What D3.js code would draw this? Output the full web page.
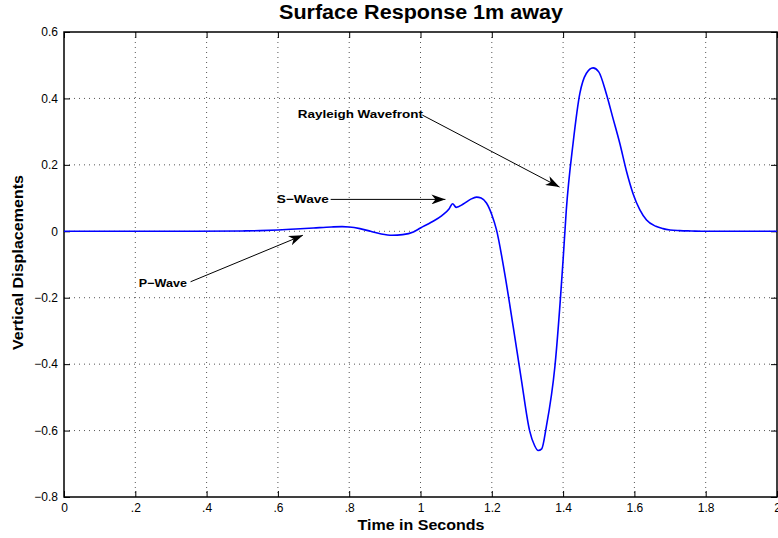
<!DOCTYPE html>
<html><head><meta charset="utf-8">
<script src="https://cdn.jsdelivr.net/npm/d3@7"></script>
<style>body{margin:0;background:#fff}svg{display:block}text{font-family:"Liberation Sans",Arial,sans-serif}</style>
</head><body>
<svg id="c" width="778" height="538"></svg>
<script>
const times = [0,0.3,0.5,0.55,0.6,0.65,0.7,0.75,0.78,0.8,0.83,0.86,0.89,0.92,0.95,0.98,1.0,1.03,1.06,1.08,1.09,1.10,1.12,1.14,1.157,1.17,1.185,1.20,1.213,1.236,1.26,1.283,1.306,1.32,1.33,1.34,1.353,1.377,1.40,1.409,1.428,1.447,1.465,1.484,1.50,1.521,1.54,1.559,1.578,1.596,1.615,1.634,1.66,1.68,1.70,1.727,1.76,1.8,2.0];
const displacement = [0,0,0.001,0.002,0.004,0.007,0.010,0.013,0.014,0.013,0.008,0.0,-0.008,-0.012,-0.01,-0.002,0.01,0.027,0.047,0.067,0.083,0.072,0.082,0.096,0.103,0.10,0.085,0.05,0.005,-0.126,-0.287,-0.447,-0.6,-0.645,-0.66,-0.655,-0.588,-0.407,-0.086,0.064,0.265,0.415,0.475,0.492,0.48,0.415,0.34,0.265,0.18,0.114,0.065,0.034,0.015,0.008,0.004,0.002,0.001,0,0];
const xTicks = [0,0.2,0.4,0.6,0.8,1,1.2,1.4,1.6,1.8,2];
const xTickLabels = ["0",".2",".4",".6",".8","1","1.2","1.4","1.6","1.8","2"];
const yTicks = [-0.8,-0.6,-0.4,-0.2,0,0.2,0.4,0.6];
const yTickLabels = ["\u22120.8","\u22120.6","\u22120.4","\u22120.2","0","0.2","0.4","0.6"];
const annotations = [
  {label:"Rayleigh Wavefront", tx:0.656, ty:0.352, fx:1.005, fy:0.35, ax:1.39, ay:0.133, w:125},
  {label:"S\u2212Wave", tx:0.597, ty:0.096, fx:0.748, fy:0.096, ax:1.07, ay:0.096, w:52},
  {label:"P\u2212Wave", tx:0.21, ty:-0.155, fx:0.355, fy:-0.152, ax:0.67, ay:-0.012, w:48}
];

const svg = d3.select("#c");
const L=64, R=777, T=32, B=497;
const x = d3.scaleLinear().domain([0,2]).range([L,R]);
const y = d3.scaleLinear().domain([-0.8,0.6]).range([B,T]);

// grid
const g = svg.append("g");
g.selectAll(".gx").data(xTicks.slice(1,-1)).enter().append("line")
  .attr("x1",d=>x(d)).attr("x2",d=>x(d)).attr("y1",T).attr("y2",B)
  .attr("stroke","#555").attr("stroke-width",1).attr("stroke-dasharray","1,4");
g.selectAll(".gy").data(yTicks.slice(1,-1)).enter().append("line")
  .attr("y1",d=>y(d)).attr("y2",d=>y(d)).attr("x1",L).attr("x2",R)
  .attr("stroke","#555").attr("stroke-width",1).attr("stroke-dasharray","1,4");

// axes
const xAxis = d3.axisBottom(x).tickValues(xTicks).tickSize(-6).tickFormat((d,i)=>xTickLabels[i]);
const yAxis = d3.axisLeft(y).tickValues(yTicks).tickSize(-6).tickFormat((d,i)=>yTickLabels[i]);
const ax = svg.append("g").attr("transform",`translate(0,${B})`).call(xAxis);
ax.selectAll("text").attr("dy","0").attr("y",15).style("font-size","12px").attr("fill","#000");
const ay = svg.append("g").attr("transform",`translate(${L},0)`).call(yAxis);
ay.selectAll("text").attr("x",-6).style("font-size","12px").attr("fill","#000");
svg.append("g").attr("transform",`translate(0,${T})`).call(d3.axisTop(x).tickValues(xTicks).tickSize(-6).tickFormat(""));
svg.append("g").attr("transform",`translate(${R},0)`).call(d3.axisRight(y).tickValues(yTicks).tickSize(-6).tickFormat(""));
svg.selectAll(".domain").remove();
svg.selectAll(".tick line").attr("stroke","#000");
svg.append("rect").attr("x",L).attr("y",T).attr("width",R-L).attr("height",B-T)
  .attr("fill","none").attr("stroke","#000").attr("stroke-width",1.5);

// curve
const pts = times.map((t,i)=>[t,displacement[i]]);
svg.append("path").datum(pts)
  .attr("d", d3.line().x(d=>x(d[0])).y(d=>y(d[1])).curve(d3.curveMonotoneX))
  .attr("fill","none").attr("stroke","#0000ff").attr("stroke-width",1.6);

// arrow marker
svg.append("defs").append("marker").attr("id","ah").attr("viewBox","0 0 14 10")
  .attr("refX",14).attr("refY",5).attr("markerWidth",14).attr("markerHeight",10)
  .attr("markerUnits","userSpaceOnUse").attr("orient","auto")
  .append("path").attr("d","M0,0 L14,5 L0,10 L4,5 Z").attr("fill","#000");

annotations.forEach(a=>{
  svg.append("line").attr("x1",x(a.fx)).attr("y1",y(a.fy)).attr("x2",x(a.ax)).attr("y2",y(a.ay))
    .attr("stroke","#000").attr("stroke-width",1).attr("marker-end","url(#ah)");
  svg.append("text").attr("x",x(a.tx)).attr("y",y(a.ty)).attr("dy","0.35em")
    .attr("textLength",a.w).attr("lengthAdjust","spacingAndGlyphs")
    .style("font-size","11px").style("font-weight","bold").text(a.label);
});

// titles
svg.append("text").attr("x",421).attr("y",19).attr("text-anchor","middle")
  .attr("textLength",284).attr("lengthAdjust","spacingAndGlyphs")
  .style("font-size","19.5px").style("font-weight","bold").text("Surface Response 1m away");
svg.append("text").attr("x",421).attr("y",530).attr("text-anchor","middle")
  .attr("textLength",127).attr("lengthAdjust","spacingAndGlyphs")
  .style("font-size","14.5px").style("font-weight","bold").text("Time in Seconds");
svg.append("text").attr("transform","translate(23,262.5) rotate(-90)").attr("text-anchor","middle")
  .attr("textLength",175).attr("lengthAdjust","spacingAndGlyphs")
  .style("font-size","14.5px").style("font-weight","bold").text("Vertical Displacements");
</script>
</body></html>
